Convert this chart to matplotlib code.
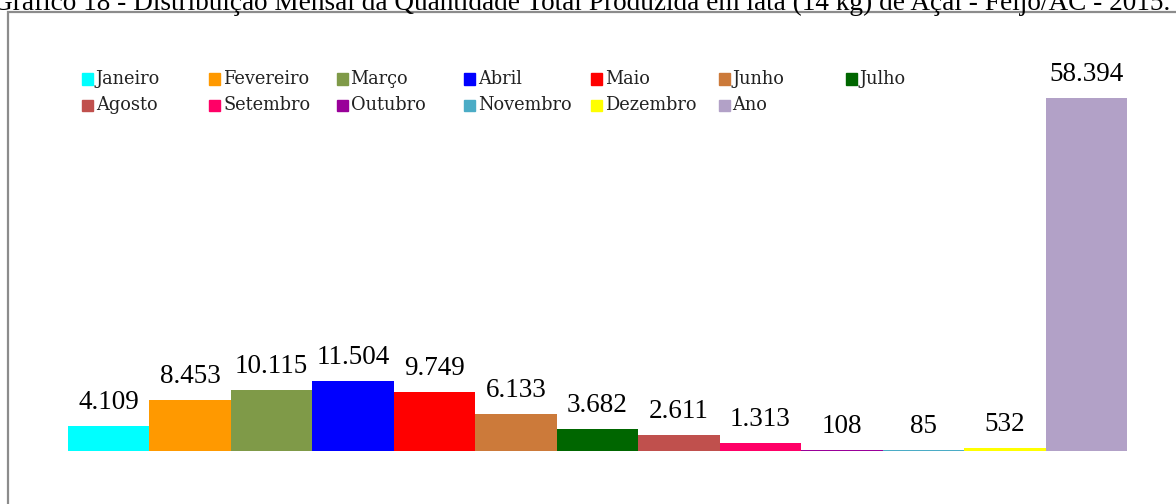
import matplotlib
matplotlib.use('Agg')
import matplotlib.pyplot as plt
from matplotlib.patches import Rectangle

# monthly production (lata 14 kg), Feijó/AC 2015
meses = ['Janeiro', 'Fevereiro', 'Março', 'Abril', 'Maio', 'Junho', 'Julho',
         'Agosto', 'Setembro', 'Outubro', 'Novembro', 'Dezembro', 'Ano']
valores = [4109, 8453, 10115, 11504, 9749, 6133, 3682,
           2611, 1313, 108, 85, 532, 58394]
cores = ['#00FFFF', '#FF9900', '#7F9A48', '#0000FF', '#FF0000', '#CC7A3A', '#006600',
         '#C0504D', '#FF0066', '#990099', '#4BACC6', '#FFFF00', '#B2A1C7']
titulo = ('Gráfico 18 - Distribuição Mensal da Quantidade Total Produzida '
          'em lata (14 kg) de Açaí - Feijó/AC - 2015.')

W, H = 1176, 504
fig = plt.figure(figsize=(W / 100, H / 100), dpi=100)

# outer grey frame, runs off the right and bottom edges
fig.patches.append(Rectangle((7.5 / W, -0.1), 1.2, 1.1 - 12.5 / H,
                             transform=fig.transFigure, fill=False,
                             edgecolor='#8C8C8C', linewidth=1.6))

# title sits above the frame and is cropped at the top, as in the source
fig.text(1170 / W, 1 - 10 / H, titulo, ha='right', va='baseline',
         family='Liberation Serif', fontsize=19.6, color='black')

ax = fig.add_axes([68 / W, 53 / H, 1059 / W, 353 / H])
ax.axis('off')
x = range(len(valores))
ax.bar(x, valores, width=1.0, color=cores, edgecolor='none')
ax.set_xlim(-0.5, len(valores) - 0.5)
ax.set_ylim(0, max(valores))

for i, v in enumerate(valores):
    ax.annotate(f'{v:,}'.replace(',', '.'), (i, v), xytext=(0, 8),
                textcoords='offset points', ha='center', va='bottom',
                family='Liberation Serif', fontsize=19.5, annotation_clip=False)

# legend laid out as a fixed grid, 7 columns x 2 rows
for k, (nome, cor) in enumerate(zip(meses, cores)):
    col, row = k % 7, k // 7
    x0 = 82 + col * 127.3
    yc = 79 + row * 26.5
    fig.patches.append(Rectangle((x0 / W, 1 - (yc + 5.5) / H), 11 / W, 11 / H,
                                 transform=fig.transFigure, color=cor))
    fig.text((x0 + 14) / W, 1 - yc / H, nome, ha='left', va='center',
             family='DejaVu Serif', fontsize=12.8, color='#222222')

fig.savefig('out.png', dpi=100)
